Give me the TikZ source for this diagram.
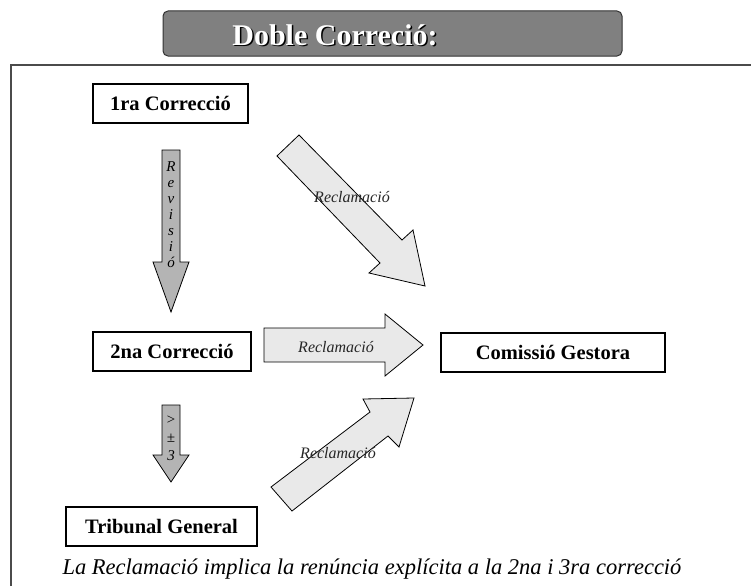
\documentclass[tikz,border=0pt]{standalone}
\usepackage{fontspec}
\setmainfont{Liberation Serif}
\usepackage{tikz}

\definecolor{titlegray}{RGB}{128,128,128}
\definecolor{framegray}{RGB}{75,75,75}
\definecolor{downgray}{RGB}{180,180,180}
\definecolor{reclgray}{RGB}{233,233,233}

\tikzset{
  corrbox/.style={draw, line width=1.1pt, minimum height=39pt, inner sep=0pt,
    font=\fontsize{20.5}{22}\selectfont\bfseries},
  fatarrow/.style={draw, line width=0.8pt, line join=miter},
  recllabel/.style={inner sep=0pt, font=\fontsize{16}{17}\selectfont\itshape, text=black!85},
  downlabel/.style={inner sep=0pt, align=center, font=\fontsize{15}{16}\selectfont\itshape}
}

\begin{document}
\begin{tikzpicture}[x=1pt,y=-1pt]
\useasboundingbox (0,0) rectangle (751,586);

\node[draw=black!80, fill=titlegray, rounded corners=5pt, line width=1pt,
  minimum width=459pt, minimum height=45pt](titlebox) at (392.5,33.5) {};
\node[font=\fontsize{30}{31}\selectfont\bfseries, text=black](title_sh) at (336.5,36.5) {Doble Correció:};
\node[font=\fontsize{30}{31}\selectfont\bfseries, text=white](title) at (335,35) {Doble Correció:};

\draw[framegray, line width=2.5pt] (11,586) -- (11,65) -- (751,65);

\node[corrbox, minimum width=155pt](C1) at (170.5,103.5) {1ra Correcció};
\node[corrbox, minimum width=158pt](C2) at (172,351.5) {2na Correcció};
\node[corrbox, minimum width=224pt](CG) at (553,352.5) {Comissió Gestora};
\node[corrbox, minimum width=191pt](TG) at (161.5,526.5) {Tribunal General};

\filldraw[fatarrow, fill=downgray] (162,150) -- (180,150) -- (180,262) -- (189,262)
  -- (171,312) -- (153,262) -- (162,262) -- cycle;
\node[downlabel](rev) at (171,215) {R\\e\\v\\i\\s\\i\\ó};

\filldraw[fatarrow, fill=downgray] (162,405) -- (180,405) -- (180,455) -- (189,455)
  -- (171,482) -- (153,455) -- (162,455) -- cycle;
\node[downlabel, font=\fontsize{15}{18}\selectfont\itshape](dif) at (171,438) {>\\±\\3};

\filldraw[fatarrow, fill=reclgray] (277,156) -- (299,135) -- (402,240) -- (413,230)
  -- (425,286) -- (369,273) -- (380,263) -- cycle;
\node[recllabel](recl1) at (352,197) {Reclamació};

\filldraw[fatarrow, fill=reclgray] (264,328) -- (385,328) -- (385,314) -- (423,345)
  -- (385,376) -- (385,362) -- (264,362) -- cycle;
\node[recllabel](recl2) at (336,347) {Reclamació};

\filldraw[fatarrow, fill=reclgray] (271,487) -- (292,511) -- (388,436) -- (399,447)
  -- (414,398) -- (363,399) -- (370,412) -- cycle;
\node[recllabel](recl3) at (338,453) {Reclamació};

\node[font=\fontsize{22.5}{24}\selectfont\itshape](note) at (372,569)
  {La Reclamació implica la renúncia explícita a la 2na i 3ra correcció};
\end{tikzpicture}
\end{document}
